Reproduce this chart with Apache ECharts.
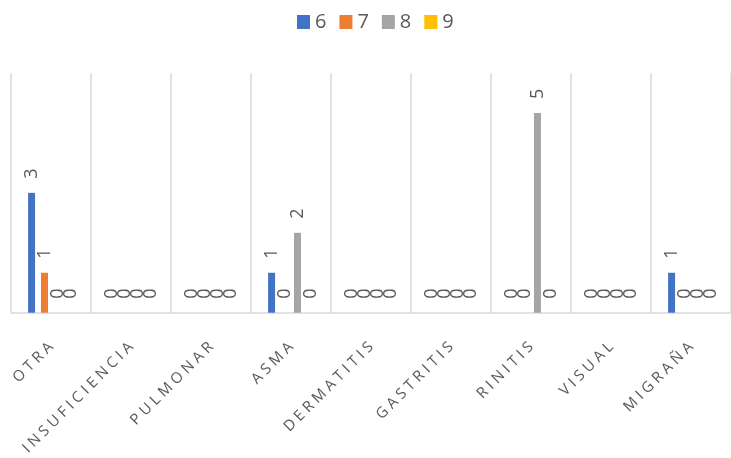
<!DOCTYPE html>
<html><head><meta charset="utf-8">
<script src="https://cdn.jsdelivr.net/npm/echarts@6/dist/echarts.min.js"></script>
<style>html,body{margin:0;padding:0;background:#fff}#c{width:731px;height:458px}</style>
</head><body><div id="c"></div>
<script>
const categories = ['OTRA','INSUFICIENCIA','PULMONAR','ASMA','DERMATITIS','GASTRITIS','RINITIS','VISUAL','MIGRAÑA'];
const seriesNames = ['6','7','8','9'];
const s6 = [3,0,0,1,0,0,0,0,1];
const s7 = [1,0,0,0,0,0,0,0,0];
const s8 = [0,0,0,2,0,0,5,0,0];
const s9 = [0,0,0,0,0,0,0,0,0];
const colors = ['#4472C4','#ED7D31','#A5A5A5','#FFC000'];
const allData = [s6,s7,s8,s9];
const font = '"Open Sans", "Liberation Sans", sans-serif';
const chart = echarts.init(document.getElementById('c'));
chart.setOption({
  animation:false,
  color: colors,
  legend:{top:7,left:292,itemWidth:13,itemHeight:14,itemGap:13,icon:'rect',
    textStyle:{fontSize:20,color:'#595959',fontFamily:font,padding:[0,0,0,0]}},
  grid:{left:11,right:-4,top:73,bottom:145,containLabel:false},
  xAxis:{type:'category',data:categories,
    axisLine:{lineStyle:{color:'#d9d9d9',width:1.5}},axisTick:{show:false},
    splitLine:{show:true,lineStyle:{color:'#d9d9d9',width:1.5}},
    axisLabel:{rotate:45,margin:32,interval:0,color:'#595959',fontSize:15,fontFamily:font,
      hideOverlap:false,
      formatter:v=>v.split('').join(' ')}},
  yAxis:{type:'value',min:0,max:6,interval:1,show:true,axisLabel:{show:false},axisLine:{show:false},
    axisTick:{show:false},splitLine:{show:false}},
  series: seriesNames.map((n,i)=>({name:n,type:'bar',data:allData[i],barWidth:7,barGap:'85%',
    label:{show:true,position:'top',rotate:90,align:'left',verticalAlign:'middle',distance:14,
      color:'#595959',fontSize:18,fontFamily:font}}))
});
</script></body></html>
